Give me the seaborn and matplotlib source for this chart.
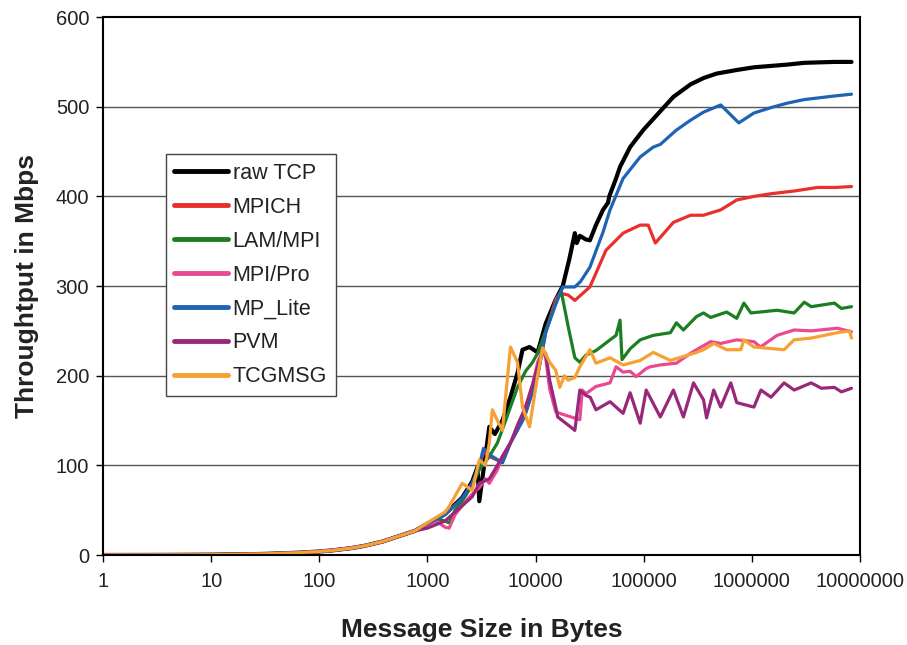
import numpy as np
import pandas as pd
import matplotlib
matplotlib.use("Agg")
import matplotlib.pyplot as plt
import seaborn as sns

# ---------------- data ----------------
base_sizes = [1, 2, 3, 4, 6, 8, 12, 16, 24, 32, 48, 64, 96, 128, 192, 256, 384, 512, 768]
base_mbps = [0.04, 0.08, 0.12, 0.16, 0.25, 0.33, 0.5, 0.65, 1.0, 1.3, 2.0, 2.6, 3.8, 5.0, 7.5, 10, 15, 20, 27]

raw_tcp_x = [1000, 1455, 2095, 2594, 2900, 3015, 3300, 3733, 4200, 4933, 5850, 6800, 7570, 8790, 10440,
             12390, 15350, 17830, 20500, 23070, 24000, 25650, 29170, 31780, 36140, 41980, 46770, 48000,
             55460, 60400, 74820, 98900, 142300, 188000, 271000, 357300, 472100, 724800, 1.044e6,
             2.12e6, 3.05e6, 5.8e6, 8.34e6]
raw_tcp_y = [35, 46, 64, 82, 98, 60, 95, 143, 135, 150, 176, 203, 229, 232, 226,
             258, 285, 300, 330, 359, 348, 356, 352, 351, 368, 385, 393, 400,
             420, 433, 455, 474, 495, 511, 525, 532, 537, 541, 544,
             547, 549, 550, 550]

mpich_x = [1000, 1455, 2095, 2594, 3015, 3300, 3733, 4933, 5850, 7570, 8070, 10440, 12390, 15350, 16720,
           20000, 23070, 31780, 44800, 64420, 92730, 110000, 128000, 188000, 271000, 357300, 515200,
           724800, 1.044e6, 1.503e6, 2.46e6, 4.03e6, 6e6, 8.34e6]
mpich_y = [35, 45, 63, 80, 98, 115, 110, 103, 125, 150, 158, 200, 248, 285, 292,
           290, 284, 299, 340, 359, 368, 368, 348, 371, 379, 379, 385,
           396, 400, 403, 406, 410, 410, 411]

lam_x = [1000, 1300, 1585, 1800, 2095, 2594, 3015, 3733, 4433, 4933, 5850, 6800, 8070, 9380, 10440,
         12390, 15350, 17200, 20000, 23070, 25650, 29170, 36140, 48800, 55460, 60400, 63000, 74820,
         92730, 122500, 176400, 200500, 232800, 307700, 357300, 415500, 585300, 724800, 843400,
         979700, 1.71e6, 2.46e6, 3.05e6, 3.54e6, 5.8e6, 6.73e6, 8.34e6]
lam_y = [35, 40, 36, 50, 60, 78, 95, 110, 125, 140, 165, 187, 205, 215, 225,
         250, 280, 295, 255, 220, 215, 223, 228, 240, 245, 262, 218, 230,
         240, 245, 248, 259, 251, 266, 270, 265, 271, 264, 281,
         270, 273, 270, 282, 277, 281, 275, 277]

mpipro_x = [1000, 1200, 1455, 1585, 1800, 2095, 2594, 3015, 3428, 3733, 4433, 4933, 5850, 6800, 8070,
            9380, 10440, 11620, 12390, 13500, 15350, 16720, 20000, 25650, 27000, 29170, 36140, 41980,
            48800, 55460, 64420, 74820, 85140, 105400, 114900, 142300, 200500, 271000, 307700, 415500,
            515200, 724800, 1.044e6, 1.2e6, 1.71e6, 2.46e6, 3.54e6, 6.18e6, 8.34e6]
mpipro_y = [33, 38, 31, 30, 45, 55, 68, 75, 85, 80, 95, 110, 125, 140, 165,
            190, 215, 228, 220, 185, 160, 158, 155, 151, 184, 180, 188, 190,
            192, 210, 204, 205, 199, 208, 210, 212, 214, 225, 229, 238,
            236, 240, 238, 232, 245, 251, 250, 253, 249]

mplite_x = [1000, 1455, 2095, 2594, 3015, 3300, 3733, 4933, 5850, 7570, 8070, 10440, 12390, 15350, 17830,
            23070, 26000, 31780, 41980, 48800, 64420, 92730, 122500, 142300, 200500, 271000, 357300,
            515200, 757000, 1.044e6, 1.5e6, 2.12e6, 3.05e6, 5.8e6, 8.34e6]
mplite_y = [35, 45, 63, 80, 100, 119, 112, 103, 125, 150, 158, 200, 248, 280, 299,
            299, 305, 321, 360, 385, 420, 444, 455, 458, 474, 485, 494,
            502, 482, 493, 499, 504, 508, 512, 514]

pvm_x = [1000, 1455, 2095, 2594, 3015, 3733, 4433, 4933, 5850, 6800, 8070, 9380, 10440, 11620, 12390,
         13500, 15350, 16000, 20000, 23070, 25650, 29170, 32000, 36140, 48800, 64420, 74820, 92730,
         105400, 142300, 188000, 232800, 288600, 357300, 381100, 443400, 515200, 638000, 724800,
         1.044e6, 1.213e6, 1.503e6, 1.986e6, 2.46e6, 3.54e6, 4.39e6, 5.8e6, 6.73e6, 8.34e6]
pvm_y = [30, 38, 55, 65, 80, 85, 100, 110, 125, 145, 165, 190, 210, 228, 225,
         195, 165, 154, 145, 139, 184, 178, 176, 162, 171, 158, 181, 147,
         184, 154, 184, 154, 192, 173, 153, 184, 165, 192, 170,
         165, 184, 176, 192, 184, 192, 186, 187, 182, 186]

tcgmsg_x = [1000, 1455, 1585, 2095, 2594, 3015, 3428, 3733, 3981, 4433, 4933, 5850, 6800, 7570, 8790,
            10440, 11620, 13500, 15350, 16720, 18500, 20000, 23070, 25650, 31780, 36140, 48800, 64420,
            92730, 122500, 176400, 307700, 357300, 443400, 585300, 790000, 843400, 1.044e6, 1.986e6,
            2.46e6, 3.54e6, 6.18e6, 8e6, 8.34e6]
tcgmsg_y = [36, 48, 54, 80, 72, 106, 100, 125, 162, 150, 139, 232, 215, 165, 143,
            200, 231, 215, 206, 187, 200, 195, 198, 210, 229, 214, 220, 212,
            217, 226, 217, 226, 229, 236, 229, 229, 240, 232, 229,
            240, 242, 248, 250, 242]

series_names = ["raw TCP", "MPICH", "LAM/MPI", "MPI/Pro", "MP_Lite", "PVM", "TCGMSG"]
series_x = [raw_tcp_x, mpich_x, lam_x, mpipro_x, mplite_x, pvm_x, tcgmsg_x]
series_y = [raw_tcp_y, mpich_y, lam_y, mpipro_y, mplite_y, pvm_y, tcgmsg_y]
colors = ["#000000", "#e8302c", "#1b7f22", "#ea4a92", "#1f63b4", "#98287a", "#f7a033"]

x_ticks = [1, 10, 100, 1000, 10000, 100000, 1000000, 10000000]
x_tick_labels = ["1", "10", "100", "1000", "10000", "100000", "1000000", "10000000"]
y_ticks = [0, 100, 200, 300, 400, 500, 600]

# ---------------- build frame ----------------
rows = []
for name, xs, ys in zip(series_names, series_x, series_y):
    for sx, sy in zip(base_sizes + list(xs), base_mbps + list(ys)):
        rows.append({"size": sx, "mbps": sy, "library": name})
df = pd.DataFrame(rows)

sns.set_theme(style="white")
plt.rcParams["font.family"] = ["Liberation Sans", "DejaVu Sans"]

fig = plt.figure(figsize=(9.07, 6.45), dpi=100)
ax = fig.add_axes([0.1136, 0.1395, 0.8346, 0.834])

sns.lineplot(data=df, x="size", y="mbps", hue="library", hue_order=series_names,
             palette=dict(zip(series_names, colors)), estimator=None, sort=False,
             linewidth=2.3, ax=ax)
ax.lines[0].set_linewidth(3.0)

ax.set_xscale("log")
ax.set_xlim(1, 1e7)
ax.set_ylim(0, 600)
ax.set_xticks(x_ticks)
ax.set_xticklabels(x_tick_labels)
ax.xaxis.set_minor_locator(matplotlib.ticker.NullLocator())
ax.set_yticks(y_ticks)
ax.tick_params(axis="both", which="major", labelsize=14.5, length=5, width=1,
               direction="out", colors="black", bottom=True, left=True)
ax.tick_params(axis="x", pad=7)
ax.tick_params(axis="y", pad=5)
for t in ax.get_xticklabels() + ax.get_yticklabels():
    t.set_color("#222222")

for yv in y_ticks[1:-1]:
    ax.axhline(yv, color="#555555", linewidth=1.0, zorder=0)

for sp in ax.spines.values():
    sp.set_color("black")
    sp.set_linewidth(1.5)

ax.set_xlabel("Message Size in Bytes", fontsize=19, fontweight="bold", labelpad=20,
              color="#222222")
ax.set_ylabel("Throughtput in Mbps", fontsize=19, fontweight="bold", labelpad=12,
              color="#222222")

handles, labels = ax.get_legend_handles_labels()
for h in handles:
    h.set_linewidth(3.5)
leg = ax.legend(handles, labels, loc="upper left", bbox_to_anchor=(0.083, 0.745),
                fontsize=15.5, handlelength=2.5, handletextpad=0.2, labelspacing=0.6,
                frameon=True, fancybox=False, borderpad=0.4, borderaxespad=0)
leg.get_frame().set_edgecolor("#444444")
leg.get_frame().set_linewidth(1.0)
leg.get_frame().set_facecolor("white")
leg.get_frame().set_alpha(1)
for t in leg.get_texts():
    t.set_color("#222222")

fig.savefig("out.png", dpi=100)
